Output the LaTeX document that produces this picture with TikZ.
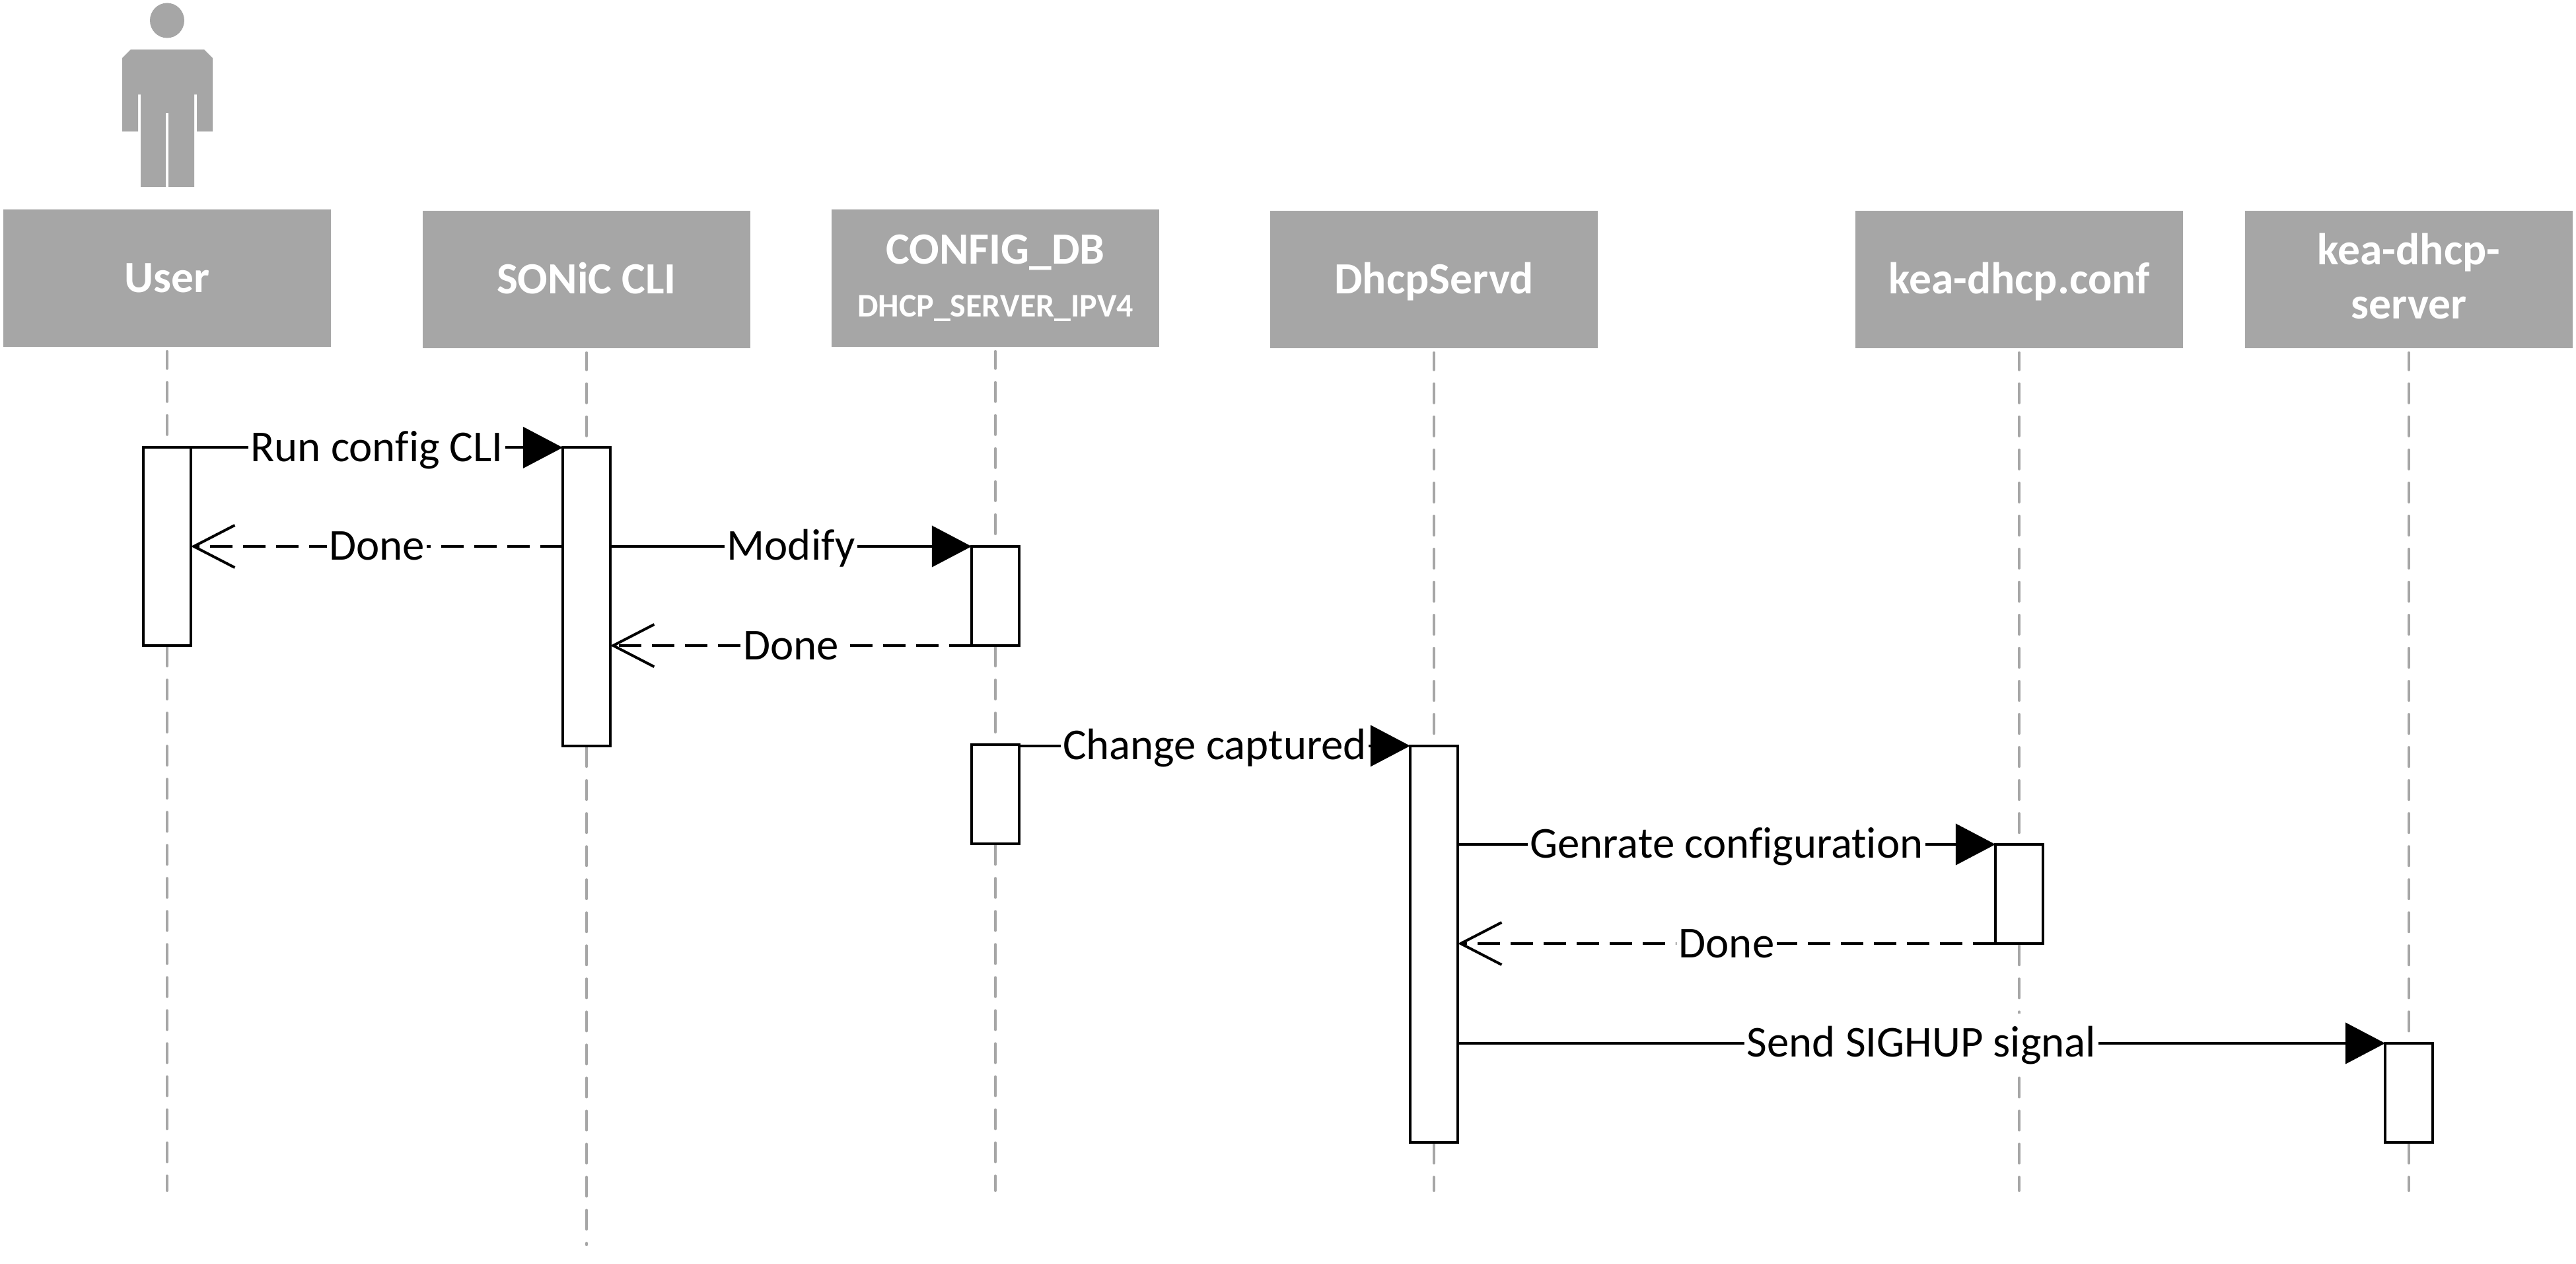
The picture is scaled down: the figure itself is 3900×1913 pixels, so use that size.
\documentclass[tikz,border=0pt]{standalone}
\usepackage{fontspec}
\setmainfont[Ligatures=NoCommon]{Carlito}
\usetikzlibrary{arrows.meta}
\definecolor{headgray}{HTML}{A6A6A6}
\begin{document}
\begin{tikzpicture}[x=0.01cm,y=-0.01cm]
\tikzstyle{head}=[rectangle, fill=headgray, text=white, align=center, inner sep=0pt, minimum width=4.96cm, minimum height=2.08cm, font=\fontsize{19.2}{23.5}\selectfont\bfseries]
\tikzstyle{headone}=[head, text height=0.53cm, text depth=0.1cm]
\tikzstyle{lifeline}=[draw=headgray, line width=0.04cm, line cap=round, dash pattern=on 0.29cm off 0.21cm, dash phase=0.03cm, shorten <=0.06cm]
\tikzstyle{bar}=[rectangle, draw=black, fill=white, line width=0.04cm, minimum width=0.72cm, inner sep=0pt, outer sep=0pt]
\tikzstyle{label}=[fill=white, inner sep=1pt, text height=0.62cm, text depth=0.2cm, font=\fontsize{19}{22}\selectfont]
\tikzstyle{call}=[draw=black, line width=0.04cm, -{Triangle[length=0.6cm,width=0.62cm]}]
\tikzstyle{back}=[draw=black, line width=0.04cm, dash pattern=on 0.34cm off 0.16cm, -{Straight Barb[length=0.62cm,width=0.64cm,line width=0.04cm]}]
\useasboundingbox (0,0) rectangle (3900,1913);
\fill[headgray] (253,31) ellipse [x radius=26, y radius=26.5];
\fill[headgray] (198,75)--(309,75)--(322,88)--(322,199)--(298,199)--(298,143)--(294,143)--(294,283)--(255,283)--(255,171)--(251,171)--(251,283)--(213,283)--(213,143)--(209,143)--(209,199)--(185,199)--(185,88)--cycle;
\node[headone] (User) at (253,421){User};
\node[headone] (Cli) at (888,423){SONiC CLI};
\node[head] (Config) at (1507,421){CONFIG\_DB\\[-0.02cm]{\fontsize{14.2}{16}\selectfont DHCP\_SERVER\_IPV4}};
\node[headone] (Dhcp) at (2171,423){DhcpServd};
\node[headone] (KeaConf) at (3057,423){kea-dhcp.conf};
\node[head] (KeaSrv) at (3647,423){kea-dhcp-\\server\rule[-0.1cm]{0pt}{0pt}};
\coordinate (UserEnd) at (253,1802);
\coordinate (CliEnd) at (888,1884);
\coordinate (ConfigEnd) at (1507,1802);
\coordinate (DhcpEnd) at (2171,1802);
\coordinate (KeaConfEnd) at (3057,1802);
\coordinate (KeaSrvEnd) at (3647,1802);
\path[lifeline] (User)edge(UserEnd)
                (Cli)edge(CliEnd)
                (Config)edge(ConfigEnd)
                (Dhcp)edge(DhcpEnd)
                (KeaConf)edge(KeaConfEnd)
                (KeaSrv)edge(KeaSrvEnd);
\node[bar,minimum height=3cm] (UserBar) at (253,827){};
\node[bar,minimum height=4.51cm] (CliBar) at (888,903){};
\node[bar,minimum height=1.5cm] (ConfigBarA) at (1507,902){};
\node[bar,minimum height=1.5cm] (ConfigBarB) at (1507,1202){};
\node[bar,minimum height=6cm] (DhcpBar) at (2171,1429){};
\node[bar,minimum height=1.5cm] (KeaConfBar) at (3057,1353){};
\node[bar,minimum height=1.5cm] (KeaSrvBar) at (3647,1654){};
\path (UserBar.east |- CliBar.north)edge[call] node[label]{Run config CLI}(CliBar.north west)
      (CliBar.west |- ConfigBarA.north)edge[back] node[label]{Done}(UserBar.east |- ConfigBarA.north)
      (CliBar.east |- ConfigBarA.north)edge[call] node[label]{Modify}(ConfigBarA.north west)
      (ConfigBarA.south west)edge[back] node[label]{Done}(CliBar.east |- ConfigBarA.south)
      (ConfigBarB.east |- DhcpBar.north)edge[call] node[label]{Change captured}(DhcpBar.north west)
      (DhcpBar.east |- KeaConfBar.north)edge[call] node[label]{Genrate configuration}(KeaConfBar.north west)
      (KeaConfBar.south west)edge[back] node[label]{Done}(DhcpBar.east |- KeaConfBar.south)
      (DhcpBar.east |- KeaSrvBar.north)edge[call] node[label]{Send SIGHUP signal}(KeaSrvBar.north west);
\end{tikzpicture}
\end{document}
